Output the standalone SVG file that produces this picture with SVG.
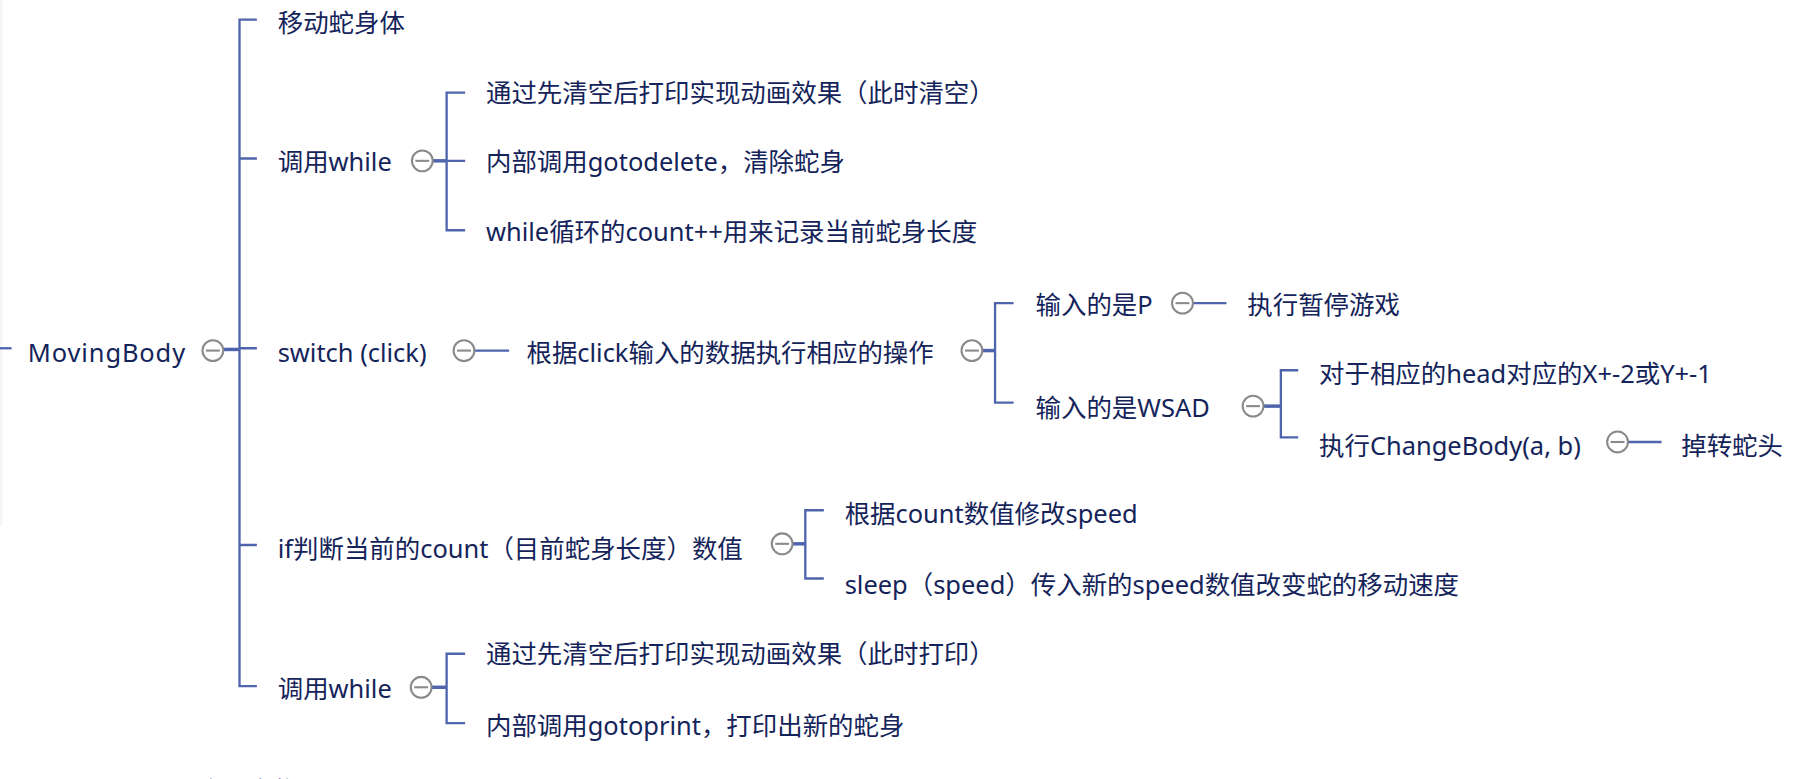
<svg xmlns="http://www.w3.org/2000/svg" width="1805" height="779" viewBox="0 0 1805 779">
<style>
.t{font-family:"Noto Sans","Noto Sans CJK SC",sans-serif;font-size:22px;fill:#14245a}
.l{stroke:#4e65ad;stroke-width:2;fill:none}
.k{stroke:#4e65ad;stroke-width:3;fill:none}
.c{stroke:#8a8a8a;stroke-width:1.8;fill:#fff}
.m{stroke:#8a8a8a;stroke-width:1.8}
</style>
<defs>
<g id="col"><circle class="c" cx="0" cy="0" r="9"/><line class="m" x1="-6" y1="0" x2="6" y2="0"/></g>
</defs>
<rect width="1805" height="779" fill="#fff"/>
<g transform="scale(1.15705)">
<line x1="1" y1="0" x2="1" y2="455" stroke="#ececec" stroke-width="1"/>
<g id="connectors">
<path class="l" d="M0 301H10"/>
<path class="k" d="M193 302H207"/>
<path class="l" d="M222 17H207V593H222 M207 137H222 M207 301H222 M207 471H222"/>
<path class="k" d="M374 139H386"/>
<path class="l" d="M402 80H386V199H402 M386 139H402"/>
<path class="l" d="M410 303H440"/>
<path class="k" d="M849 303H860"/>
<path class="l" d="M876 262H860V348H876"/>
<path class="l" d="M1031 262H1060"/>
<path class="k" d="M1092 351H1107"/>
<path class="l" d="M1122 320H1107V378H1122"/>
<path class="l" d="M1407 382H1436"/>
<path class="k" d="M685 470H696"/>
<path class="l" d="M712 441H696V500H712"/>
<path class="k" d="M373 594H386"/>
<path class="l" d="M402 565H386V625H402"/>
</g>
<g id="root"><text class="t" x="24" y="313" textLength="136">MovingBody</text><use href="#col" x="184" y="303"/></g>
<g id="n1"><text class="t" x="240" y="28">移动蛇身体</text></g>
<g id="n2"><text class="t" x="240" y="148">调用while</text><use href="#col" x="365" y="139"/></g>
<g id="n2a"><text class="t" x="420" y="88">通过先清空后打印实现动画效果（此时清空）</text></g>
<g id="n2b"><text class="t" x="420" y="148">内部调用gotodelete，清除蛇身</text></g>
<g id="n2c"><text class="t" x="420" y="208">while循环的count++用来记录当前蛇身长度</text></g>
<g id="n3"><text class="t" x="240" y="313">switch (click)</text><use href="#col" x="401" y="303"/></g>
<g id="n3a"><text class="t" x="455" y="313">根据click输入的数据执行相应的操作</text><use href="#col" x="840" y="303"/></g>
<g id="n3a1"><text class="t" x="895" y="271">输入的是P</text><use href="#col" x="1022" y="262"/></g>
<g id="n3a1a"><text class="t" x="1078" y="271">执行暂停游戏</text></g>
<g id="n3a2"><text class="t" x="895" y="360">输入的是WSAD</text><use href="#col" x="1083" y="351"/></g>
<g id="n3a2a"><text class="t" x="1140" y="331">对于相应的head对应的X+-2或Y+-1</text></g>
<g id="n3a2b"><text class="t" x="1140" y="393">执行ChangeBody(a, b)</text><use href="#col" x="1398" y="382"/></g>
<g id="n3a2b1"><text class="t" x="1453" y="393">掉转蛇头</text></g>
<g id="n4"><text class="t" x="240" y="482">if判断当前的count（目前蛇身长度）数值</text><use href="#col" x="676" y="470"/></g>
<g id="n4a"><text class="t" x="730" y="452">根据count数值修改speed</text></g>
<g id="n4b"><text class="t" x="730" y="513">sleep（speed）传入新的speed数值改变蛇的移动速度</text></g>
<g id="n5"><text class="t" x="240" y="603">调用while</text><use href="#col" x="364" y="594"/></g>
<g id="n5a"><text class="t" x="420" y="573">通过先清空后打印实现动画效果（此时打印）</text></g>
<g id="n5b"><text class="t" x="420" y="635">内部调用gotoprint，打印出新的蛇身</text></g>
<g id="n6"><text class="t" x="170" y="691">吃到食物</text></g>
</g>
</svg>
